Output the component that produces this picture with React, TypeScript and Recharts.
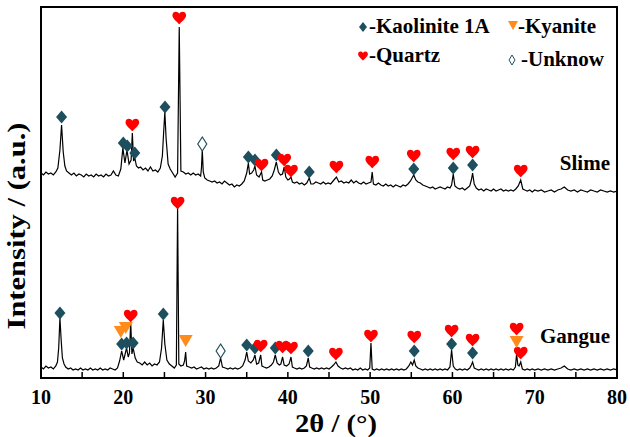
import React from 'react';
import {
  ComposedChart,
  Line,
  Scatter,
  XAxis,
  YAxis,
  ReferenceArea,
  Legend,
} from 'recharts';

const FONT = 'Liberation Serif, DejaVu Serif, serif';
const TEAL = '#1d4f5f';
const RED = '#ff0000';
const ORANGE = '#ff8c1a';

// 2θ ticks (labels every 10, minor every 5)
const xTicks = [10, 15, 20, 25, 30, 35, 40, 45, 50, 55, 60, 65, 70, 75, 80];

// Slime trace [2θ, intensity]
const slime = [
  [10.0, 205], [10.3, 203], [10.6, 206], [10.9, 204], [11.2, 205], [11.5, 203], [11.8, 206], [12.05, 210],
  [12.3, 228], [12.5, 253], [12.7, 226], [12.9, 212], [13.1, 207], [13.4, 205], [13.7, 203], [14.0, 205],
  [14.3, 202], [14.6, 204], [14.9, 203], [15.2, 201], [15.5, 204], [15.8, 202], [16.1, 203], [16.4, 201],
  [16.7, 204], [17.0, 202], [17.3, 203], [17.6, 201], [17.9, 204], [18.2, 202], [18.5, 203], [18.8, 207],
  [19.1, 203], [19.4, 202], [19.7, 209], [19.95, 230], [20.2, 215], [20.45, 228], [20.7, 214], [20.95, 218],
  [21.1, 245], [21.25, 217], [21.4, 220], [21.6, 212], [21.85, 210], [22.1, 211], [22.4, 208], [22.7, 210],
  [23.0, 207], [23.3, 211], [23.6, 207], [23.9, 208], [24.2, 206], [24.5, 210], [24.75, 222], [24.9, 245],
  [25.05, 266], [25.2, 240], [25.45, 214], [25.7, 209], [26.0, 205], [26.3, 201], [26.6, 205], [26.8, 351],
  [27.0, 207], [27.3, 206], [27.6, 204], [27.9, 205], [28.2, 203], [28.5, 205], [28.8, 203], [29.1, 204],
  [29.4, 202], [29.5, 210], [29.6, 228], [29.72, 206], [29.9, 200], [30.2, 198], [30.5, 197], [30.8, 196],
  [31.1, 197], [31.4, 195], [31.7, 196], [32.0, 194], [32.3, 197], [32.6, 195], [32.9, 193], [33.2, 194],
  [33.5, 191], [33.8, 193], [34.1, 192], [34.4, 194], [34.7, 197], [35.0, 205], [35.2, 215], [35.35, 204],
  [35.6, 205], [35.85, 208], [36.0, 212], [36.2, 203], [36.5, 201], [36.8, 206], [36.95, 198], [37.2, 197],
  [37.5, 198], [37.8, 199], [38.1, 202], [38.35, 208], [38.6, 216], [38.85, 206], [39.1, 203], [39.35, 204],
  [39.56, 211], [39.75, 201], [40.0, 198], [40.2, 199], [40.38, 201], [40.55, 196], [40.8, 195], [41.1, 196],
  [41.4, 194], [41.7, 195], [42.0, 193], [42.3, 195], [42.6, 200], [42.8, 194], [43.1, 194], [43.4, 196],
  [43.7, 195], [44.0, 194], [44.3, 196], [44.6, 194], [44.9, 195], [45.2, 194], [45.5, 197], [45.9, 201],
  [46.2, 196], [46.5, 197], [46.8, 195], [47.1, 196], [47.4, 195], [47.7, 198], [48.0, 195], [48.3, 197],
  [48.6, 195], [48.9, 194], [49.2, 196], [49.5, 194], [49.8, 195], [50.1, 196], [50.25, 206], [50.4, 194],
  [50.7, 193], [51.0, 195], [51.3, 193], [51.6, 192], [51.9, 194], [52.2, 192], [52.5, 193], [52.8, 191],
  [53.1, 193], [53.4, 192], [53.7, 191], [54.0, 193], [54.3, 192], [54.6, 194], [54.9, 197], [55.1, 200],
  [55.3, 203], [55.55, 198], [55.8, 196], [56.1, 195], [56.4, 193], [56.7, 192], [57.0, 191], [57.3, 190],
  [57.6, 191], [57.9, 189], [58.2, 190], [58.5, 191], [58.8, 190], [59.1, 189], [59.4, 191], [59.7, 190],
  [59.9, 193], [60.1, 204], [60.3, 192], [60.6, 190], [60.9, 189], [61.2, 190], [61.5, 188], [61.8, 190],
  [62.1, 192], [62.3, 198], [62.45, 205], [62.65, 194], [62.9, 190], [63.2, 188], [63.5, 189], [63.8, 187],
  [64.1, 189], [64.4, 188], [64.7, 187], [65.0, 189], [65.3, 187], [65.6, 188], [65.9, 189], [66.2, 187],
  [66.5, 188], [66.8, 187], [67.1, 188], [67.4, 187], [67.7, 189], [68.0, 192], [68.3, 198], [68.55, 189],
  [68.8, 188], [69.1, 187], [69.4, 188], [69.7, 186], [70.0, 188], [70.4, 187], [70.8, 188], [71.2, 186],
  [71.6, 187], [72.0, 188], [72.4, 186], [72.8, 188], [73.2, 189], [73.6, 191], [74.0, 188], [74.4, 187],
  [74.8, 188], [75.2, 186], [75.6, 188], [76.0, 187], [76.4, 186], [76.8, 188], [77.2, 187], [77.6, 186],
  [78.0, 188], [78.4, 187], [78.8, 186], [79.2, 187], [79.6, 186], [80.0, 187],
];

// Gangue trace [2θ, intensity]
const gangue = [
  [10.0, 11], [10.3, 9], [10.6, 12], [10.9, 10], [11.2, 11], [11.5, 9], [11.8, 12], [12.0, 16],
  [12.15, 30], [12.3, 60], [12.45, 38], [12.6, 20], [12.8, 14], [13.0, 11], [13.3, 9], [13.6, 10],
  [13.9, 8], [14.2, 9], [14.5, 8], [14.8, 10], [15.1, 8], [15.4, 9], [15.7, 8], [16.0, 10],
  [16.3, 8], [16.6, 9], [16.9, 8], [17.2, 10], [17.5, 8], [17.8, 9], [18.1, 8], [18.4, 10],
  [18.7, 9], [19.0, 8], [19.3, 10], [19.55, 17], [19.8, 27], [20.05, 18], [20.4, 30], [20.6, 21],
  [20.75, 25], [20.9, 56], [21.05, 24], [21.2, 30], [21.45, 20], [21.7, 16], [22.0, 15], [22.3, 13],
  [22.6, 16], [22.9, 13], [23.2, 15], [23.5, 12], [23.8, 14], [24.1, 13], [24.4, 16], [24.65, 30],
  [24.86, 58], [25.05, 34], [25.3, 18], [25.6, 14], [25.9, 12], [26.2, 10], [26.45, 13], [26.6, 170],
  [26.75, 14], [27.0, 12], [27.3, 13], [27.45, 17], [27.58, 26], [27.7, 12], [28.0, 11], [28.3, 10],
  [28.6, 11], [28.9, 9], [29.2, 10], [29.5, 11], [29.8, 9], [30.1, 10], [30.4, 9], [30.7, 10],
  [31.0, 9], [31.3, 10], [31.6, 12], [31.83, 20], [32.05, 11], [32.4, 10], [32.7, 9], [33.0, 10],
  [33.3, 9], [33.6, 10], [33.9, 9], [34.2, 10], [34.5, 12], [34.8, 18], [35.0, 26], [35.2, 17],
  [35.5, 15], [35.8, 18], [36.0, 23], [36.2, 14], [36.45, 15], [36.7, 23], [36.85, 12], [37.1, 11],
  [37.4, 10], [37.7, 11], [38.0, 13], [38.25, 16], [38.47, 23], [38.7, 15], [38.95, 13], [39.15, 14],
  [39.36, 21], [39.55, 13], [39.85, 12], [40.15, 14], [40.38, 21], [40.55, 11], [40.8, 10], [41.1, 9],
  [41.4, 10], [41.7, 9], [42.0, 10], [42.25, 12], [42.48, 20], [42.65, 11], [42.9, 10], [43.2, 9],
  [43.5, 10], [43.8, 9], [44.1, 10], [44.4, 9], [44.7, 10], [45.0, 9], [45.3, 11], [45.55, 13],
  [45.84, 16], [46.1, 12], [46.4, 10], [46.7, 9], [47.0, 10], [47.3, 9], [47.6, 10], [47.9, 8],
  [48.2, 9], [48.5, 8], [48.8, 10], [49.1, 8], [49.4, 9], [49.7, 8], [49.95, 10], [50.1, 35],
  [50.25, 9], [50.5, 8], [50.8, 9], [51.1, 8], [51.4, 9], [51.7, 8], [52.0, 9], [52.3, 8],
  [52.6, 9], [52.9, 8], [53.2, 9], [53.5, 8], [53.8, 9], [54.1, 8], [54.4, 9], [54.7, 12],
  [54.95, 16], [55.15, 13], [55.36, 18], [55.55, 12], [55.8, 10], [56.1, 9], [56.4, 8], [56.7, 9],
  [57.0, 8], [57.3, 9], [57.6, 8], [57.9, 9], [58.2, 8], [58.5, 9], [58.8, 8], [59.1, 9],
  [59.4, 8], [59.7, 11], [59.9, 28], [60.1, 12], [60.35, 9], [60.6, 8], [60.9, 9], [61.2, 8],
  [61.5, 9], [61.8, 8], [62.1, 10], [62.3, 13], [62.45, 16], [62.65, 10], [62.9, 9], [63.2, 8],
  [63.5, 9], [63.8, 8], [64.1, 9], [64.4, 8], [64.7, 9], [65.0, 8], [65.3, 9], [65.6, 8],
  [65.9, 9], [66.2, 8], [66.5, 9], [66.8, 8], [67.1, 9], [67.4, 8], [67.65, 11], [67.8, 24],
  [67.95, 13], [68.1, 12], [68.3, 16], [68.5, 9], [68.8, 8], [69.1, 9], [69.4, 8], [69.7, 9],
  [70.0, 8], [70.4, 9], [70.8, 8], [71.2, 9], [71.6, 8], [72.0, 9], [72.4, 8], [72.8, 9],
  [73.2, 10], [73.6, 12], [74.0, 9], [74.4, 8], [74.8, 9], [75.2, 8], [75.6, 9], [76.0, 8],
  [76.4, 9], [76.8, 8], [77.2, 9], [77.6, 8], [78.0, 9], [78.4, 8], [78.8, 9], [79.2, 8],
  [79.6, 9], [80.0, 8],
];

// phase markers [2θ, height]
const kaolinite = [
  [12.5, 261], [20.0, 235], [20.49, 232], [21.4, 225], [25.07, 271], [35.2, 221], [36.0, 218],
  [38.6, 223], [42.6, 206], [55.3, 209], [60.1, 210], [62.45, 213],
  [12.3, 65], [19.8, 34], [20.4, 35], [21.2, 35], [24.86, 64], [35.0, 33], [36.0, 30],
  [38.47, 30], [42.48, 27], [55.36, 27], [59.9, 34], [62.45, 25],
];
const quartz = [
  [21.1, 253], [26.8, 360], [36.8, 213], [39.56, 218], [40.38, 207], [45.9, 211], [50.26, 216],
  [55.3, 222], [60.1, 224], [62.45, 226], [68.3, 207],
  [20.9, 62], [26.6, 175], [36.7, 32], [39.36, 31], [40.38, 30], [45.84, 24], [50.1, 42],
  [55.36, 41], [59.9, 47], [62.45, 38], [67.8, 49], [68.3, 25],
];
const kyanite = [[19.7, 46], [20.3, 50], [27.58, 37], [67.8, 36]];
const unknown = [[29.6, 234], [31.83, 27]];

const toPts = (arr: number[][]) => arr.map(([x, v]) => ({ x, v }));

const heartPath = (cx: number, cy: number, s = 1) => {
  const p = (dx: number, dy: number) => `${cx + dx * s},${cy + dy * s}`;
  return (
    `M${p(0, 6)} C${p(-2, 3.5)} ${p(-6.5, 0.5)} ${p(-6.5, -2.5)} ` +
    `C${p(-6.5, -5)} ${p(-4.8, -6)} ${p(-3.3, -6)} C${p(-1.8, -6)} ${p(-0.6, -5.2)} ${p(0, -4)} ` +
    `C${p(0.6, -5.2)} ${p(1.8, -6)} ${p(3.3, -6)} C${p(4.8, -6)} ${p(6.5, -5)} ${p(6.5, -2.5)} ` +
    `C${p(6.5, 0.5)} ${p(2, 3.5)} ${p(0, 6)} Z`
  );
};

const Diamond = ({ cx, cy }: any) => (
  <polygon points={`${cx},${cy - 6.5} ${cx + 5.5},${cy} ${cx},${cy + 6.5} ${cx - 5.5},${cy}`} fill={TEAL} />
);
const OpenDiamond = ({ cx, cy }: any) => (
  <polygon
    points={`${cx},${cy - 7} ${cx + 4.5},${cy} ${cx},${cy + 7} ${cx - 4.5},${cy}`}
    fill="#fff"
    stroke={TEAL}
    strokeWidth={1.2}
  />
);
const Heart = ({ cx, cy }: any) => <path d={heartPath(cx, cy, 1.05)} fill={RED} />;
const Tri = ({ cx, cy }: any) => (
  <polygon points={`${cx - 7},${cy - 6} ${cx + 7},${cy - 6} ${cx},${cy + 6}`} fill={ORANGE} />
);

const textStyle = { fontFamily: FONT, fontWeight: 700, fill: '#000' };

// legend and sample names
const Overlay = () => (
  <svg width={630} height={437} style={{ display: 'block', pointerEvents: 'none' }}>
    <polygon points="363,22 367,27 363,32 359,27" fill={TEAL} />
    <text x={369} y={33} fontSize={21} style={textStyle}>-Kaolinite 1A</text>
    <polygon points="508,21 518,21 513,30" fill={ORANGE} />
    <text x={518} y={33} fontSize={21} style={textStyle}>-Kyanite</text>
    <path d={heartPath(363, 56, 0.75)} fill={RED} />
    <text x={369} y={62} fontSize={21} style={textStyle}>-Quartz</text>
    <polygon points="512,55 515,60 512,65 509,60" fill="#fff" stroke={TEAL} strokeWidth={1} />
    <text x={521} y={66} fontSize={21} style={textStyle}>-Unknow</text>
    <text x={610} y={170} fontSize={21} textAnchor="end" style={textStyle}>Slime</text>
    <text x={610} y={343} fontSize={21} textAnchor="end" style={textStyle}>Gangue</text>
  </svg>
);

export default function App() {
  return (
    <div style={{ position: 'absolute', left: 0, top: 0, width: 630, height: 437, background: '#fff', fontFamily: FONT }}>
      <ComposedChart width={630} height={437} margin={{ top: 7, right: 13, left: 0, bottom: 0 }}>
        <XAxis
          dataKey="x"
          type="number"
          domain={[10, 80]}
          ticks={xTicks}
          allowDataOverflow
          height={59}
          tickSize={-6}
          tickMargin={18}
          tickLine={{ stroke: '#000', strokeWidth: 1.5 }}
          axisLine={{ stroke: '#000', strokeWidth: 2 }}
          tickFormatter={(v: number) => (v % 10 === 0 ? String(v) : '')}
          tick={{ fontSize: 20, fontFamily: FONT, fontWeight: 700, fill: '#000', style: { fontFamily: FONT } }}
          label={{
            content: () => (
              <text
                x={336}
                y={432}
                textAnchor="middle"
                fontSize={26}
                textLength={82}
                lengthAdjust="spacingAndGlyphs"
                style={textStyle}
              >
                2θ / (°)
              </text>
            ),
          }}
        />
        <YAxis
          dataKey="v"
          type="number"
          domain={[0, 371]}
          width={41}
          tick={false}
          tickLine={false}
          axisLine={false}
          label={{
            content: () => (
              <text
                x={25}
                y={226}
                textAnchor="middle"
                fontSize={25}
                textLength={207}
                lengthAdjust="spacingAndGlyphs"
                transform="rotate(-90 25 226)"
                style={textStyle}
              >
                Intensity / (a.u.)
              </text>
            ),
          }}
        />
        <ReferenceArea x1={10} x2={80} y1={0} y2={371} fill="none" stroke="#000" strokeWidth={2} ifOverflow="visible" />
        <Line data={toPts(slime)} dataKey="v" stroke="#000" strokeWidth={1.2} dot={false} activeDot={false} isAnimationActive={false} />
        <Line data={toPts(gangue)} dataKey="v" stroke="#000" strokeWidth={1.2} dot={false} activeDot={false} isAnimationActive={false} />
        <Scatter data={toPts(kaolinite)} dataKey="v" shape={Diamond} isAnimationActive={false} />
        <Scatter data={toPts(quartz)} dataKey="v" shape={Heart} isAnimationActive={false} />
        <Scatter data={toPts(kyanite)} dataKey="v" shape={Tri} isAnimationActive={false} />
        <Scatter data={toPts(unknown)} dataKey="v" shape={OpenDiamond} isAnimationActive={false} />
        <Legend
          layout="vertical"
          align="center"
          verticalAlign="middle"
          wrapperStyle={{ position: 'absolute', left: 0, top: 0, width: 630, height: 437 }}
          content={() => <Overlay />}
        />
      </ComposedChart>
    </div>
  );
}
